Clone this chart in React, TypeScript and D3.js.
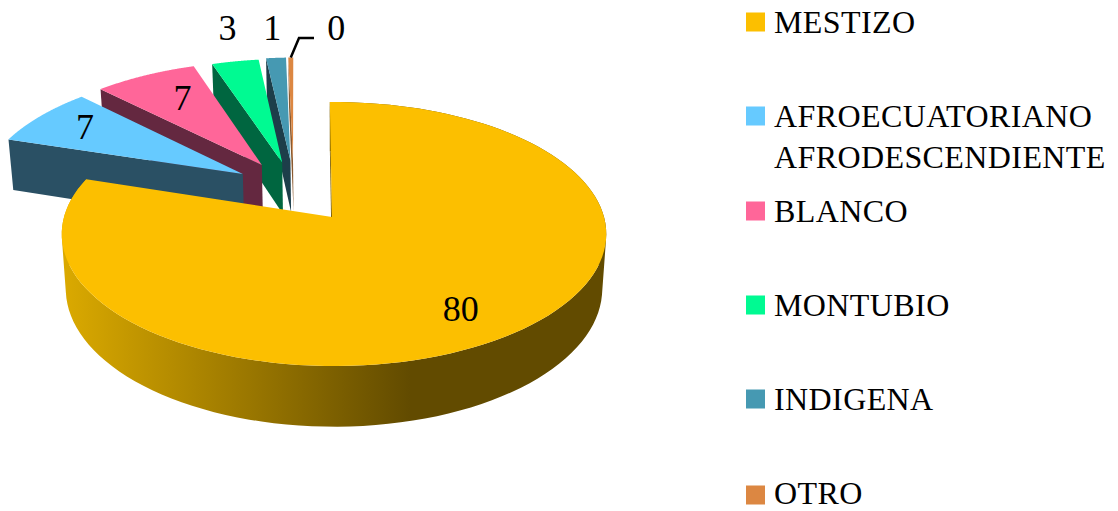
import React from "react";
import * as d3 from "d3";

const categories = ["MESTIZO", "AFROECUATORIANO\nAFRODESCENDIENTE", "BLANCO", "MONTUBIO", "INDIGENA", "OTRO"];
const values = [80.2, 7.6, 7.2, 3.3, 1.4, 0.35];
const labels = ["80", "7", "7", "3", "1", "0"];
const topColors = ["#FCBF00", "#66CAFF", "#FF6699", "#00FA92", "#4699B2", "#DC8742"];
const wallColors = ["#7A5D00", "#2A5064", "#642840", "#006640", "#1D3E4A", "#8A5A30"];

// explosion of each slice in pie-plane units
const explodeU = [0, -0.345, -0.274, -0.195, -0.163, -0.153];
const explodeV = [0, -0.346, -0.4224, -0.445, -0.46, -0.46];
const rimShift = [2, 0, 0, 0, 0, 0];
const labelRadius = [0.79, 0.77, 0.71, 1.34, 1.3, 1.3];
const labelShiftX = [-10, 0, 6, 6, 0, 46];
const labelShiftY = [2, -2, -2, -4, -4, -3];
const legendY = [22, 116, 211, 305, 399, 495];
const legendTextNudge = [0, 0, 0, 0, 0, -2];

const K = -0.129;
const topPlane = { x0: 332, y0: 217, B: 270, A: 129.8 };
const basePlane = { x0: 332, y0: 271, B: 266, A: 135.6 };
type Plane = typeof topPlane;
const project = (p: Plane, u: number, v: number): [number, number] => {
  const s = 1 + K * v;
  return [p.x0 + (p.B * u) / s, p.y0 + (p.A * v) / s];
};

const arcs = d3
  .pie<number>()
  .sort(null)
  .startAngle(-Math.PI / 180)
  .endAngle(2 * Math.PI - Math.PI / 180)(values);

const line = d3.line();
const rim = (p: Plane, i: number, a0: number, a1: number) =>
  d3.range(0, 121).map((t) => {
    const a = a0 + ((a1 - a0) * t) / 120;
    const [x, y] = project(p, explodeU[i] + Math.sin(a), explodeV[i] - Math.cos(a));
    return [x + rimShift[i], y] as [number, number];
  });
const apex = (p: Plane, i: number) => project(p, explodeU[i], explodeV[i]);

// The outer wall as one path of same-wound quads, so the silhouette stays convex and seamless.
const band = (a: [number, number][], b: [number, number][]) =>
  a
    .slice(1)
    .map((q, k) => {
      const quad: [number, number][] = [a[k], q, b[k + 1], b[k]];
      if (d3.polygonArea(quad) < 0) quad.reverse();
      return line(quad) + "Z";
    })
    .join("");

const order = [5, 4, 3, 2, 1, 0];
const font = "'Liberation Serif', serif";

export default function App() {
  const otherRim = rim(topPlane, 5, arcs[5].startAngle, arcs[5].endAngle);
  const [lx, ly] = otherRim[60];
  return (
    <svg width={1118} height={511} style={{ position: "absolute", left: 0, top: 0, background: "#fff" }}>
      <defs>
        <linearGradient id="wall" gradientUnits="userSpaceOnUse" x1={62} x2={410} y1={0} y2={0}>
          <stop offset="0" stopColor="#DBAA00" />
          <stop offset="1" stopColor="#624B00" />
        </linearGradient>
      </defs>
      {order.map((i) => {
        const { startAngle: a0, endAngle: a1 } = arcs[i];
        const topRim = rim(topPlane, i, a0, a1);
        const baseRim = rim(basePlane, i, a0, a1);
        const side = [apex(topPlane, i), topRim[0], baseRim[0], apex(basePlane, i)] as [number, number][];
        return (
          <g key={i}>
            <path d={line(side) + "Z"} fill={wallColors[i]} />
            {i === 0 && <path d={band(topRim, baseRim)} fill="url(#wall)" />}
            <path d={line([apex(topPlane, i), ...topRim]) + "Z"} fill={topColors[i]} />
          </g>
        );
      })}
      <path d={line([[lx, ly], [299, 38], [314, 38]])!} fill="none" stroke="#000" strokeWidth={2.5} />
      {arcs.map((a, i) => {
        const mid = (a.startAngle + a.endAngle) / 2;
        const [x, y] = project(
          topPlane,
          explodeU[i] + labelRadius[i] * Math.sin(mid),
          explodeV[i] - labelRadius[i] * Math.cos(mid)
        );
        return (
          <text key={i} x={x + labelShiftX[i]} y={y + labelShiftY[i]} dy="0.35em" textAnchor="middle" fontFamily={font} fontSize={36} fill="#000">
            {labels[i]}
          </text>
        );
      })}
      {categories.map((c, i) => (
        <g key={c}>
          <rect x={746} y={legendY[i] - 9.5} width={19} height={19} fill={topColors[i]} />
          {c.split("\n").map((t, j) => (
            <text key={t} x={774} y={legendY[i] + legendTextNudge[i] + j * 41} dy="0.35em" fontFamily={font} fontSize={32} letterSpacing={0.4} fill="#000">
              {t}
            </text>
          ))}
        </g>
      ))}
    </svg>
  );
}
